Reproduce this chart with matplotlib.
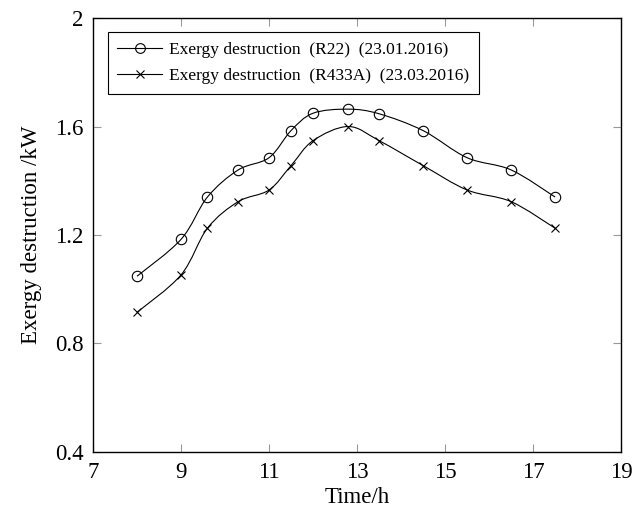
import numpy as np
import matplotlib
matplotlib.use("Agg")
import matplotlib.pyplot as plt
from matplotlib.path import Path
from matplotlib.patches import PathPatch
from matplotlib.lines import Line2D

plt.rcParams['font.family'] = ['Liberation Serif', 'DejaVu Serif']
plt.rcParams['mathtext.fontset'] = 'stix'

time_h = [8, 9, 9.6, 10.3, 11, 11.5, 12, 12.8, 13.5, 14.5, 15.5, 16.5, 17.5]
r22 = [1.048, 1.184, 1.340, 1.440, 1.485, 1.585, 1.649, 1.664, 1.647, 1.585, 1.485, 1.440, 1.340]
r433a = [0.915, 1.053, 1.225, 1.323, 1.366, 1.456, 1.548, 1.600, 1.548, 1.456, 1.366, 1.323, 1.225]

label_r22 = "Exergy destruction  (R22)  (23.01.2016)"
label_r433a = "Exergy destruction  (R433A)  (23.03.2016)"
xticks = [7, 9, 11, 13, 15, 17, 19]
yticks = [0.4, 0.8, 1.2, 1.6, 2.0]
ytick_labels = ["0.4", "0.8", "1.2", "1.6", "2"]


def smooth_path(x, y, k=1.0 / 6.0):
    """Cubic Bezier path through the points (Catmull-Rom style tangents)."""
    p = np.column_stack([x, y]).astype(float)
    n = len(p)
    verts = [p[0]]
    codes = [Path.MOVETO]
    for i in range(n - 1):
        p0 = p[i - 1] if i > 0 else p[i]
        p1 = p[i]
        p2 = p[i + 1]
        p3 = p[i + 2] if i + 2 < n else p[i + 1]
        c1 = p1 + (p2 - p0) * k
        c2 = p2 - (p3 - p1) * k
        verts += [c1, c2, p2]
        codes += [Path.CURVE4] * 3
    return Path(verts, codes)


fig = plt.figure(figsize=(6.34, 5.09), dpi=100)
ax = fig.add_axes([0.1467, 0.112, 0.833, 0.8526])

for ys, mk, ms in [(r22, 'o', 7.5), (r433a, 'x', 6)]:
    ax.add_patch(PathPatch(smooth_path(time_h, ys), facecolor='none',
                           edgecolor='black', lw=0.8))
    ax.plot(time_h, ys, linestyle='none', marker=mk, markersize=ms,
            markerfacecolor='none', markeredgecolor='black', markeredgewidth=0.8)

ax.set_xlim(7, 19)
ax.set_ylim(0.4, 2.0)
ax.set_xticks(xticks)
ax.set_yticks(yticks)
ax.set_yticklabels(ytick_labels)
ax.tick_params(direction='in', length=6, width=0.8, color='#999999',
               top=True, right=True, labelsize=16.5)
ax.tick_params(axis='y', pad=7)
ax.tick_params(axis='x', pad=7)
for s in ax.spines.values():
    s.set_linewidth(1.0)

ax.set_xlabel("Time/h", fontsize=16.5, labelpad=3)
ax.set_ylabel("Exergy destruction /kW", fontsize=16.5, labelpad=9)

handles = [
    Line2D([], [], color='black', lw=0.8, marker='o', markersize=7,
           markerfacecolor='none', markeredgewidth=0.8),
    Line2D([], [], color='black', lw=0.8, marker='x', markersize=5.5,
           markeredgewidth=0.8),
]
leg = ax.legend(handles, [label_r22, label_r433a], loc='upper left',
                bbox_to_anchor=(0.028, 0.968), fontsize=12.5, frameon=True,
                fancybox=False, edgecolor='black', framealpha=1,
                handlelength=2.6, handletextpad=0.4, borderpad=0.55,
                labelspacing=0.6, borderaxespad=0)
leg.get_frame().set_linewidth(0.8)

fig.savefig("out.png", dpi=100)
